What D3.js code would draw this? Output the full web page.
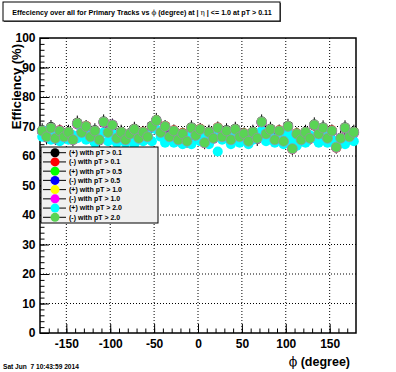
<!DOCTYPE html>
<html>
<head>
<meta charset="utf-8">
<script src="https://cdn.jsdelivr.net/npm/d3@7"></script>
<style>
body { margin:0; background:#fff; }
text { font-family:"Liberation Sans", Arial, sans-serif; }
</style>
</head>
<body>
<div id="chart"></div>
<script>
var w = 396, h = 372;

// phi bin centers, 5 degree bins
var phiBins = d3.range(72).map(function(i){ return -177.5 + 5*i; });

var seriesNames = ["(+) with pT > 0.1", "(-) with pT > 0.1", "(+) with pT > 0.5", "(-) with pT > 0.5",
                   "(+) with pT > 1.0", "(-) with pT > 1.0", "(+) with pT > 2.0", "(-) with pT > 2.0"];
var seriesColors = ["#000000", "#ff0000", "#00ff00", "#0000ff", "#ffff00", "#ff00ff", "#00ffff", "#59d454"];
var seriesErr = [2.4, 1.7, 1.4, 1.4, 1.3, 1.3, 1.2, 1.2];

var effPos01 = [68.7,66.3,69.8,66.2,68.3,66.7, 68.2,65.7,71.3,68.2,69.8,66.3, 68.7,65.3,71.7,68.2,70.3,66.2,
  68.2,65.3,67.7,69.2,66.2,67.8, 66.7,70.2,72.2,68.2,69.8,66.7, 68.3,65.7,67.3,65.2,69.7,67.2,
  68.8,64.7,68.2,66.2,69.3,66.7, 68.7,65.3,69.2,66.7,67.3,65.2, 68.2,65.8,71.7,67.3,69.2,65.7,
  68.3,65.2,70.2,62.7,67.3,65.7, 68.2,66.2,70.7,67.3,69.7,66.2, 68.3,63.2,66.2,69.7,66.3,68.2];
var effNeg01 = [68.4,66.7,69.3,66.1,68.7,66.3, 67.8,65.6,70.8,68.1,70.2,66.6, 68.3,65.7,71.3,68.3,70.6,65.8,
  67.8,65.6,67.3,68.8,66.3,68.2, 66.3,69.8,71.8,68.3,70.2,66.3, 68.7,65.3,67.8,64.8,69.3,66.8,
  69.2,64.3,67.8,66.3,69.7,66.3, 68.3,65.7,68.8,66.3,67.7,64.8, 67.8,66.2,71.3,67.7,68.8,65.3,
  68.7,64.8,69.8,62.3,67.7,65.3, 67.8,65.8,70.3,67.7,69.3,65.8, 68.7,62.8,65.8,69.3,66.7,67.8];
var effPos05 = [68.6,66.4,69.6,65.9,68.4,66.6, 68.1,65.4,71.1,67.9,70.1,66.4, 68.6,65.4,71.6,67.9,70.4,66.1,
  68.1,65.4,67.6,69.1,65.9,68.1, 66.6,70.1,72.1,67.9,70.1,66.4, 68.6,65.4,67.6,64.9,69.6,67.1,
  69.1,64.4,68.1,65.9,69.6,66.4, 68.6,65.4,69.1,66.4,67.6,64.9, 68.1,65.9,71.6,67.4,69.1,65.4,
  68.6,64.9,70.1,62.4,67.6,65.4, 68.1,65.9,70.6,67.4,69.6,65.9, 68.6,62.9,65.9,69.6,66.4,68.1];
var effNeg05 = [68.4,66.6,69.4,66.1,68.6,66.4, 67.9,65.6,70.9,68.1,69.9,66.6, 68.4,65.6,71.4,68.1,70.6,65.9,
  67.9,65.6,67.4,68.9,66.1,67.9, 66.4,69.9,71.9,68.1,69.9,66.6, 68.4,65.6,67.4,65.1,69.4,66.9,
  68.9,64.6,67.9,66.1,69.4,66.6, 68.4,65.6,68.9,66.6,67.4,65.1, 67.9,66.1,71.4,67.6,68.9,65.6,
  68.4,65.1,69.9,62.6,67.4,65.6, 67.9,66.1,70.4,67.6,69.4,66.1, 68.4,63.1,66.1,69.4,66.6,67.9];
var effPos10 = [68.5,66.5,69.5,66,68.5,66.5, 68,65.5,71,68,70,66.5, 68.5,65.5,71.5,68,70.5,66,
  68,65.5,67.5,69,66,68, 66.5,70,72,68,70,66.5, 68.5,65.5,67.5,65,69.5,67,
  69,64.5,68,66,69.5,66.5, 68.5,65.5,69,66.5,67.5,65, 68,66,71.5,67.5,69,65.5,
  68.5,65,70,62.5,67.5,65.5, 68,66,70.5,67.5,69.5,66, 68.5,63,66,69.5,66.5,68];
var effNeg10 = [68.4,66.4,69.4,65.9,68.4,66.4, 67.9,65.4,70.9,67.9,69.9,66.4, 68.4,65.4,71.4,67.9,70.4,65.9,
  67.9,65.4,67.4,68.9,65.9,67.9, 66.4,69.9,71.9,67.9,69.9,66.4, 68.4,65.4,67.4,64.9,69.4,66.9,
  68.9,64.4,67.9,65.9,69.4,66.4, 68.4,65.4,68.9,66.4,67.4,64.9, 67.9,65.9,71.4,67.4,68.9,65.4,
  68.4,64.9,69.9,62.4,67.4,65.4, 67.9,65.9,70.4,67.4,69.4,65.9, 68.4,62.9,65.9,69.4,66.4,67.9];
var effPos20 = [66.5,68.5,65.5,67,65,67.5, 65.5,67,66,69,65.5,67, 64.5,66.5,68,65,67.5,64.5,
  66,64.5,65.5,64,67,65, 67,65,69,66.5,64.5,66.5, 64.5,66,64,66.5,64,67,
  65,66.5,64,67.5,61.5,65.5, 66.5,64,67,64.5,66,64, 65.5,67,68.5,65,66.5,64.5,
  66.5,64,67.5,65,63.5,65.5, 64.5,67,66,64.5,67.5,64.5, 65.5,63.5,65,64,66.5,65];
var effNeg20 = [68.5,66.5,69.5,66,68.5,66.5, 68,65.5,71,68,70,66.5, 68.5,65.5,71.5,68,70.5,66,
  68,65.5,67.5,69,66,68, 66.5,70,72,68,70,66.5, 68.5,65.5,67.5,65,69.5,67,
  69,64.5,68,66,69.5,66.5, 68.5,65.5,69,66.5,67.5,65, 68,66,71.5,67.5,69,65.5,
  68.5,65,70,62.5,67.5,65.5, 68,66,70.5,67.5,69.5,66, 68.5,63,66,69.5,66.5,68];

var seriesValues = [effPos01, effNeg01, effPos05, effNeg05, effPos10, effNeg10, effPos20, effNeg20];

var xTicks = [-150, -100, -50, 0, 50, 100, 150];
var yTicks = [0, 10, 20, 30, 40, 50, 60, 70, 80, 90, 100];

var svg = d3.select("#chart")
  .append("svg")
  .attr("width", w)
  .attr("height", h);

svg.append("rect").attr("width", w).attr("height", h).style("fill", "white");

var x = d3.scaleLinear().domain([-180, 180]).range([40, 356]);
var y = d3.scaleLinear().domain([0, 100]).range([333, 38]);

// grid
svg.append("g").selectAll("line").data(xTicks).enter().append("line")
  .attr("x1", function(d){ return x(d); }).attr("x2", function(d){ return x(d); })
  .attr("y1", y(0)).attr("y2", y(100))
  .style("stroke", "black").style("stroke-width", 1).style("stroke-dasharray", "1,2");
svg.append("g").selectAll("line").data(yTicks.slice(1, -1)).enter().append("line")
  .attr("y1", function(d){ return y(d); }).attr("y2", function(d){ return y(d); })
  .attr("x1", x(-180)).attr("x2", x(180))
  .style("stroke", "black").style("stroke-width", 1).style("stroke-dasharray", "1,2");

// axes
var xAxis = svg.append("g").attr("transform", "translate(0," + y(0) + ")")
  .call(d3.axisBottom(x).tickValues(xTicks).tickSize(-9).tickPadding(6).tickFormat(d3.format("d")));
svg.append("g").attr("transform", "translate(0," + y(0) + ")")
  .call(d3.axisBottom(x).tickValues(d3.range(-170, 180, 10)).tickSize(-4.5).tickFormat(""));
var yAxis = svg.append("g").attr("transform", "translate(" + x(-180) + ",0)")
  .call(d3.axisLeft(y).tickValues(yTicks).tickSize(-9).tickPadding(4.5));
svg.append("g").attr("transform", "translate(" + x(-180) + ",0)")
  .call(d3.axisLeft(y).tickValues(d3.range(0, 101, 2)).tickSize(-4.5).tickFormat(""));

svg.selectAll(".domain").remove();
svg.selectAll(".tick line").style("stroke", "black").style("stroke-width", 1);
svg.selectAll(".tick text")
  .style("font-family", "'Liberation Sans', Arial, sans-serif")
  .style("font-size", "12px").style("font-weight", "bold").style("fill", "black");
xAxis.selectAll(".tick text").text(function(d){ return d < 0 ? "-" + Math.abs(d) : d; });

// frame
svg.append("rect")
  .attr("x", x(-180)).attr("y", y(100))
  .attr("width", x(180) - x(-180)).attr("height", y(0) - y(100))
  .style("fill", "none").style("stroke", "black").style("stroke-width", 1.5);

// data: error bars then markers, series after series
seriesValues.forEach(function(vals, s){
  var g = svg.append("g");
  g.selectAll("line").data(vals).enter().append("line")
    .attr("x1", function(d, i){ return x(phiBins[i]); })
    .attr("x2", function(d, i){ return x(phiBins[i]); })
    .attr("y1", function(d){ return y(d - seriesErr[s]); })
    .attr("y2", function(d){ return y(d + seriesErr[s]); })
    .style("stroke", "black").style("stroke-width", 1);
  g.selectAll("circle").data(vals).enter().append("circle")
    .attr("cx", function(d, i){ return x(phiBins[i]); })
    .attr("cy", function(d){ return y(d); })
    .attr("r", 5)
    .style("fill", seriesColors[s])
    .style("stroke", s == 7 ? "#9a8fa8" : "none")
    .style("stroke-width", 0.7);
});

// legend
var leg = svg.append("g");
leg.append("rect").attr("x", 41).attr("y", 147).attr("width", 117).attr("height", 76)
  .style("fill", "#f0f0f0").style("stroke", "black").style("stroke-width", 1);
var rows = leg.selectAll("g.row").data(seriesNames).enter().append("g")
  .attr("transform", function(d, i){ return "translate(0," + (152.7 + i * 9.23) + ")"; });
rows.append("line").attr("x1", 43).attr("x2", 66).attr("y1", 0).attr("y2", 0)
  .style("stroke", "black").style("stroke-width", 1);
rows.append("circle").attr("cx", 55).attr("cy", 0).attr("r", 4.5)
  .style("fill", function(d, i){ return seriesColors[i]; });
rows.append("text").attr("x", 69).attr("y", 2.4).text(function(d){ return d; })
  .style("font-size", "7px").style("font-weight", "bold");

// title box
svg.append("rect").attr("x", 4).attr("y", 3).attr("width", 277).attr("height", 19)
  .style("fill", "#555");
svg.append("rect").attr("x", 3).attr("y", 2).attr("width", 277).attr("height", 19)
  .style("fill", "white").style("stroke", "black").style("stroke-width", 1);
var title = svg.append("text").attr("x", 142).attr("y", 14.5).attr("text-anchor", "middle")
  .style("font-size", "7px").style("font-weight", "bold");
title.append("tspan").text("Effeciency over all for Primary Tracks vs ");
title.append("tspan").style("font-weight", "normal").style("font-family", "'DejaVu Serif', serif").text("\u03d5");
title.append("tspan").text(" (degree) at |  ");
title.append("tspan").style("font-weight", "normal").style("font-family", "'DejaVu Serif', serif").text("\u03b7");
title.append("tspan").text(" | <= 1.0 at pT > 0.11");
var tl = title.node().getComputedTextLength();
title.style("font-size", (7 * 260 / tl) + "px");

// axis titles
var xt = svg.append("text").attr("x", 350).attr("y", 366).attr("text-anchor", "end")
  .style("font-size", "12.5px").style("font-weight", "bold");
xt.append("tspan").style("font-weight", "normal").style("font-family", "'DejaVu Serif', serif").text("\u03d5");
xt.append("tspan").text(" (degree)");
svg.append("text").attr("transform", "translate(21,44) rotate(-90)").attr("text-anchor", "end")
  .style("font-size", "13px").style("font-weight", "bold").text("Efficiency (%)");

// date stamp
svg.append("text").attr("x", 3).attr("y", 368.5).attr("xml:space", "preserve")
  .style("white-space", "pre").style("font-size", "6.6px").style("font-weight", "bold")
  .text("Sat Jun  7 10:43:59 2014");
</script>
</body>
</html>
